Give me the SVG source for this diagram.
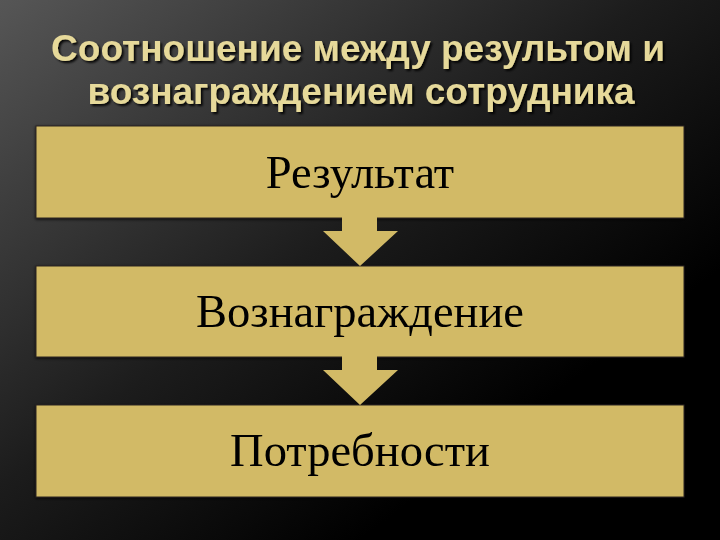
<svg xmlns="http://www.w3.org/2000/svg" width="720" height="540" viewBox="0 0 720 540">
<defs>
<linearGradient id="bg" x1="0" y1="0" x2="1" y2="1">
<stop offset="0" stop-color="#565656"/>
<stop offset="0.45" stop-color="#1c1c1c"/>
<stop offset="0.75" stop-color="#000"/>
</linearGradient>
<filter id="ts" x="-5%" y="-20%" width="110%" height="140%">
<feDropShadow dx="2" dy="2" stdDeviation="1" flood-color="#000" flood-opacity="0.9"/>
</filter>
<filter id="bs" x="-5%" y="-10%" width="110%" height="120%">
<feDropShadow dx="0" dy="1" stdDeviation="1.5" flood-color="#000" flood-opacity="0.8"/>
</filter>
</defs>
<style>
.title{font-family:"Liberation Sans",Arial,sans-serif;font-weight:bold;font-size:37px;fill:#E6D99A;text-anchor:middle}
.box{fill:#D2BA66;stroke:#2a2620;stroke-width:1}
.arrow{fill:#D2BA66}
.lbl{font-family:"Liberation Serif","Times New Roman",serif;font-size:46.5px;fill:#000;text-anchor:middle}
</style>
<rect width="720" height="540" fill="url(#bg)"/>
<g id="title" filter="url(#ts)">
<text class="title" x="358" y="61">Соотношение между результом и</text>
<text class="title" x="361" y="104">вознаграждением сотрудника</text>
</g>
<g id="node-result" filter="url(#bs)">
<rect class="box" x="36" y="126" width="648" height="92"/>
<text class="lbl" x="360" y="188">Результат</text>
</g>
<g id="node-reward" filter="url(#bs)">
<rect class="box" x="36" y="266" width="648" height="91"/>
<text class="lbl" x="360" y="327">Вознаграждение</text>
</g>
<g id="node-needs" filter="url(#bs)">
<rect class="box" x="36" y="405" width="648" height="92"/>
<text class="lbl" x="360" y="466">Потребности</text>
</g>
<g id="connectors">
<polygon class="arrow" points="342,217 377,217 377,231 398,231 360,266 323,231 342,231"/>
<polygon class="arrow" points="342,356 377,356 377,370 398,370 360,405 323,370 342,370"/>
</g>
</svg>
